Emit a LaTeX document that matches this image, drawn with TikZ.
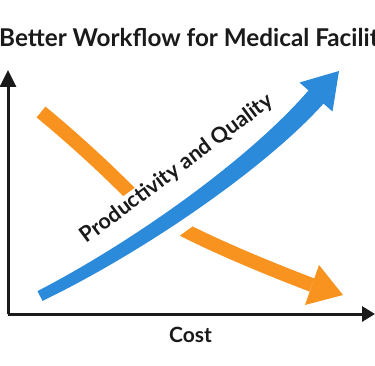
\documentclass[tikz,border=0pt]{standalone}
\usepackage{fontspec}
\setmainfont{Lato}
\usetikzlibrary{arrows.meta}
\definecolor{cOrange}{HTML}{F7931E}
\definecolor{cBlue}{HTML}{2B8AD9}
\definecolor{cInk}{HTML}{1A1A1A}
\begin{document}
\begin{tikzpicture}[x=1pt,y=-1pt,
  yaxis/.style={line width=3pt, draw=cInk, -{Triangle[length=17pt,width=16pt]}},
  xaxis/.style={line width=3pt, draw=cInk, -{Triangle[length=13pt,width=15pt]}},
  orangeline/.style={line width=14pt, draw=cOrange},
  titletext/.style={font=\bfseries\fontsize{24.5}{30}\selectfont, text=cInk, inner sep=0pt},
  costtext/.style={font=\bfseries\fontsize{21}{25}\selectfont, text=cInk, inner sep=0pt},
  curvetext/.style={font=\bfseries\fontsize{21.5}{26}\selectfont, text=cInk, inner sep=0pt}]
\useasboundingbox (0,0) rectangle (375,366);
% title
\node[titletext, anchor=base west] (title) at (-1,47) {\scalebox{0.99}[1]{Better Workflow for Medical Facility}};
% axes
\coordinate (o) at (8,314);
\coordinate (ytip) at (8,70);
\coordinate (xtip) at (375,314);
\draw[yaxis] (o) -- (ytip);
\draw[xaxis] (o) -- (xtip);
\node[costtext, anchor=base] (cost) at (190.5,342) {Cost};
% orange curve
\coordinate (oa) at (41,112);
\coordinate (ob) at (129,192);
\coordinate (oc) at (186,231);
\coordinate (od) at (312,285);
\coordinate (oh1) at (319,265);
\coordinate (otip) at (343,295);
\coordinate (oh2) at (305,305);
\draw[orangeline] (oa) .. controls (75,140) and (105,168) .. (ob) .. controls (143.8,205.4) and (172.6,224.2) .. (oc)
  .. controls (226,251) and (274.6,270.8) .. (od);
\fill[cOrange] (oh1) -- (otip) -- (oh2) -- cycle;
% white gap across the orange curve
\node[fill=white, minimum width=40pt, minimum height=65pt, inner sep=0pt, rotate=36] (gap) at (157.5,211.6) {};
% blue arrow
\coordinate (b0u) at (37.5,291.1);
\coordinate (b0l) at (42.5,300.9);
\coordinate (b3u) at (308.5,90.4);
\coordinate (b3l) at (323.5,103.6);
\coordinate (bh1) at (299.5,82.5);
\coordinate (btip) at (339,71);
\coordinate (bh2) at (332.5,111.5);
\fill[cBlue] (b0u) .. controls (134.9,240.7) and (250.3,158.1) .. (b3u)
  -- (bh1) -- (btip) -- (bh2) -- (b3l)
  .. controls (263.8,169.9) and (141.1,253.3) .. (b0l) -- cycle;
% label along blue arrow
\node[curvetext, rotate=36.7, anchor=base] (pq) at (180.5,174) {Productivity and Quality};
\end{tikzpicture}
\end{document}
